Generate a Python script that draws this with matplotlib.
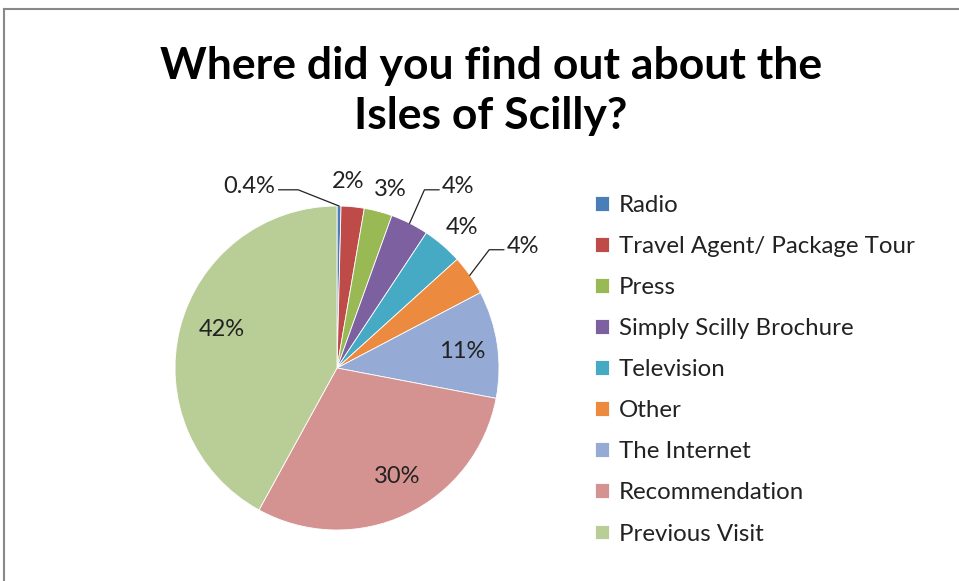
import numpy as np
import matplotlib.pyplot as plt

plt.rcParams['font.family'] = ['Lato', 'DejaVu Sans']

sources = ['Radio', 'Travel Agent/ Package Tour', 'Press', 'Simply Scilly Brochure',
           'Television', 'Other', 'The Internet', 'Recommendation', 'Previous Visit']
shares = [0.4, 2.3, 2.8, 3.8, 4.0, 4.0, 10.7, 30.0, 42.0]
share_labels = ['0.4%', '2%', '3%', '4%', '4%', '4%', '11%', '30%', '42%']
colors = ['#4A7EBB', '#BE4B48', '#98B954', '#7D60A0', '#46AAC5',
          '#EC8A40', '#95AAD4', '#D49391', '#B9CD96']

# label placement in pie-radius units (x right, y up), and which get leader lines
label_pos = [(-0.54, 1.12), (0.07, 1.15), (0.33, 1.10), (0.75, 1.12), (0.77, 0.87),
             (1.15, 0.75), (0.77, 0.10), (0.37, -0.67), (-0.71, 0.24)]
leaders = {0: 'right', 3: 'left', 5: 'left'}

W, H = 959, 581
cx, cy, r = 337, 368, 162  # pie centre / radius in pixels

fig = plt.figure(figsize=(W / 100, H / 100), dpi=100)
ax = fig.add_axes([0, 0, 1, 1])

wedges, _ = ax.pie(shares, colors=colors, startangle=90, counterclock=False,
                   radius=1.0, wedgeprops=dict(linewidth=0.6, edgecolor='white'))
ax.set_xlim(-cx / r, (W - cx) / r)
ax.set_ylim(-(H - cy) / r, cy / r)
ax.set_aspect('auto')
ax.axis('off')

texts = []
for i, txt in enumerate(share_labels):
    lx, ly = label_pos[i]
    texts.append(ax.text(lx, ly, txt, ha='center', va='center', fontsize=17, color='#222222'))

fig.canvas.draw()
renderer = fig.canvas.get_renderer()
for i, side in leaders.items():
    w = wedges[i]
    mid = np.deg2rad((w.theta1 + w.theta2) / 2)
    ex, ey = np.cos(mid), np.sin(mid)
    half = texts[i].get_window_extent(renderer).width / 2 / r
    lx, ly = label_pos[i]
    if side == 'right':
        tx = lx + half + 0.02
        elbow = tx + 0.12
    else:
        tx = lx - half - 0.02
        elbow = tx - 0.09
    ax.plot([tx, elbow, ex], [ly - 0.02, ly - 0.02, ey], color='#222222', lw=0.9)

fig.text(491 / W, 1 - 91 / H, 'Where did you find out about the\nIsles of Scilly?',
         ha='center', va='center', fontsize=32, fontweight='bold', linespacing=1.33)

leg = ax.legend(wedges, sources, loc='upper left', bbox_to_anchor=(595 / W, 1 - 195 / H),
                bbox_transform=fig.transFigure, frameon=False, fontsize=17.3,
                handlelength=0.58, handleheight=0.58, handletextpad=0.42,
                labelspacing=0.835, borderaxespad=0, borderpad=0)
for t in leg.get_texts():
    t.set_color('#222222')

# chart border (left and top visible)
ax.plot([(4 - cx) / r] * 2, [-(H - cy) / r, (cy - 9) / r], color='#888888', lw=1.5)
ax.plot([(4 - cx) / r, (W - cx) / r], [(cy - 9) / r] * 2, color='#888888', lw=1.5)

fig.savefig('out.png', dpi=100)
